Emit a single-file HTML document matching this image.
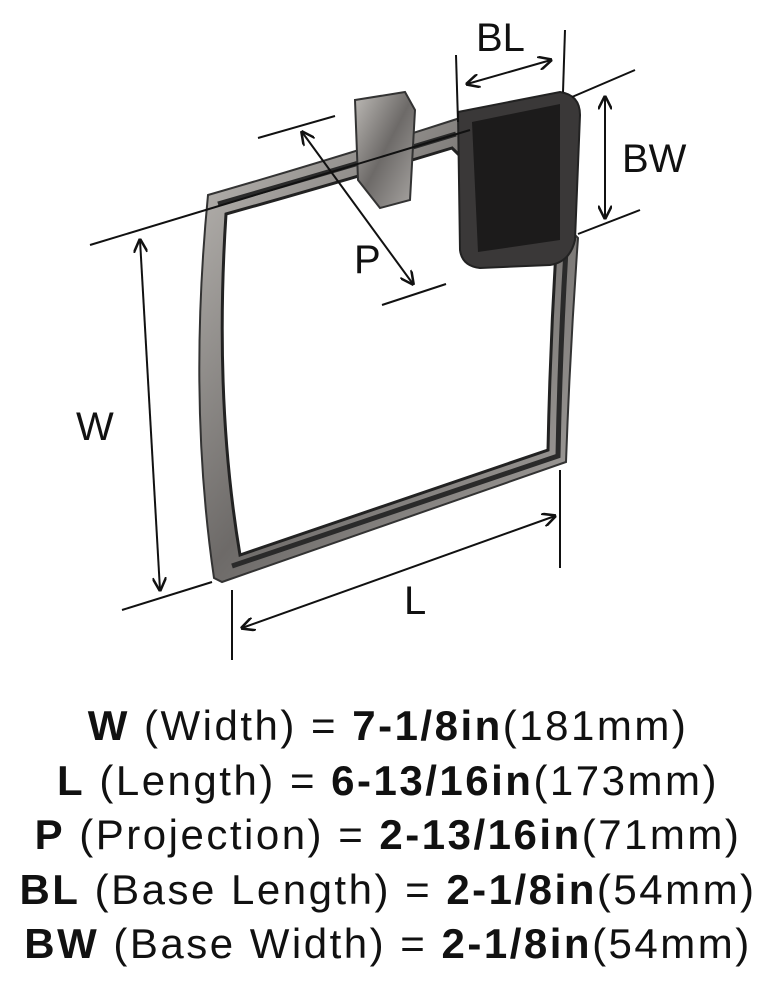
<!DOCTYPE html>
<html><head><meta charset="utf-8">
<style>
html,body{margin:0;padding:0;background:#fff;}
body{width:776px;height:990px;position:relative;overflow:hidden;font-family:"Liberation Sans",sans-serif;}
svg{position:absolute;left:0;top:0;}
.specs{position:absolute;left:0;top:699px;width:776px;text-align:center;font-size:42px;letter-spacing:2.5px;color:#111;line-height:54.5px;white-space:nowrap;}
.specs b{font-weight:bold;}
</style></head><body>
<svg width="776" height="700" viewBox="0 0 776 700">
<defs>
<marker id="a" viewBox="0 0 10 10" refX="9" refY="5" markerWidth="7" markerHeight="7" orient="auto-start-reverse"><path d="M0,0 L10,5 L0,10" fill="none" stroke="#111" stroke-width="1.8"/></marker>
<linearGradient id="m" x1="0" y1="0" x2="1" y2="1"><stop offset="0" stop-color="#bdbab6"/><stop offset=".5" stop-color="#6d6a68"/><stop offset="1" stop-color="#a9a6a3"/></linearGradient>
</defs>
<path d="M208,195 Q330,160 460,118 L470,128 L578,238 Q570,350 566,462 Q400,520 222,582 L214,578 Q188,400 208,195 Z" fill="url(#m)" stroke="#333" stroke-width="2"/>
<path d="M226,214 Q330,185 452,148 L556,250 Q550,350 548,450 Q400,500 240,555 Q214,400 226,214 Z" fill="#fff" stroke="#222" stroke-width="3"/>
<path d="M218,204 Q330,172 456,134" fill="none" stroke="#2a2a2a" stroke-width="5"/>
<path d="M566,250 Q560,350 558,456 Q400,510 232,566" fill="none" stroke="#2a2a2a" stroke-width="5"/>
<path d="M355,100 L405,92 L415,110 L410,200 L380,208 L358,180 Z" fill="url(#m)" stroke="#333" stroke-width="2"/>
<path d="M458,112 L560,92 Q580,95 580,115 L575,240 Q570,262 550,265 L480,268 Q462,266 460,250 Z" fill="#3a3838" stroke="#222" stroke-width="2"/>
<path d="M472,122 L560,104 L560,240 L478,252 Z" fill="#1c1b1b"/>
<g stroke="#111" stroke-width="2" fill="none">
<line x1="456" y1="55" x2="458" y2="122"/>
<line x1="565" y1="30" x2="563" y2="92"/>
<line x1="467" y1="84" x2="551" y2="60" marker-start="url(#a)" marker-end="url(#a)"/>
<line x1="572" y1="97" x2="635" y2="70"/>
<line x1="578" y1="234" x2="640" y2="210"/>
<line x1="605" y1="97" x2="605" y2="218" marker-start="url(#a)" marker-end="url(#a)"/>
<line x1="258" y1="138" x2="335" y2="116"/>
<line x1="382" y1="305" x2="446" y2="284"/>
<line x1="302" y1="132" x2="413" y2="284" marker-start="url(#a)" marker-end="url(#a)"/>
<line x1="90" y1="245" x2="470" y2="130"/>
<line x1="122" y1="610" x2="212" y2="582"/>
<line x1="140" y1="240" x2="160" y2="590" marker-start="url(#a)" marker-end="url(#a)"/>
<line x1="232" y1="590" x2="232" y2="660"/>
<line x1="560" y1="470" x2="560" y2="568"/>
<line x1="242" y1="628" x2="555" y2="516" marker-start="url(#a)" marker-end="url(#a)"/>
</g>
<g font-family="Liberation Sans, sans-serif" font-size="40" fill="#111">
<text x="476" y="51">BL</text>
<text x="622" y="172">BW</text>
<text x="354" y="273">P</text>
<text x="76" y="440">W</text>
<text x="404" y="614">L</text>
</g>
</svg>
<div class="specs">
<div><b>W</b> (Width) = <b>7-1/8in</b>(181mm)</div>
<div><b>L</b> (Length) = <b>6-13/16in</b>(173mm)</div>
<div><b>P</b> (Projection) = <b>2-13/16in</b>(71mm)</div>
<div><b>BL</b> (Base Length) = <b>2-1/8in</b>(54mm)</div>
<div><b>BW</b> (Base Width) = <b>2-1/8in</b>(54mm)</div>
</div>
</body></html>
